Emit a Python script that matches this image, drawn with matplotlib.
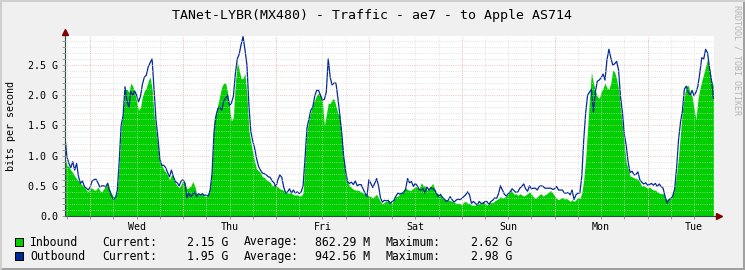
import matplotlib.pyplot as plt
import numpy as np
from matplotlib.patches import Rectangle
from matplotlib.lines import Line2D

# 30 minute samples in Gbit/s, hours counted from Wed 00:00
first_hour = -6.5
step_hour = 0.5
span_hours = 167.66

inbound = [
    0.98, 0.84, 0.82, 0.76, 0.72, 0.66, 0.62, 0.58, 0.54, 0.51,
    0.48, 0.43, 0.40, 0.47, 0.46, 0.43, 0.43, 0.48, 0.42, 0.40,
    0.45, 0.49, 0.57, 0.45, 0.38, 0.32, 0.33, 0.42, 0.85, 1.45,
    1.72, 2.09, 2.10, 2.05, 2.20, 2.15, 2.05, 1.90, 1.75, 1.80,
    1.98, 2.07, 2.12, 2.24, 2.30, 2.10, 1.68, 1.42, 1.15, 0.92,
    0.84, 0.77, 0.73, 0.68, 0.60,
    0.68, 0.66, 0.55, 0.50, 0.47, 0.52, 0.60, 0.55, 0.45, 0.47,
    0.50, 0.57, 0.50, 0.38, 0.35, 0.37, 0.37, 0.33, 0.32, 0.37,
    0.48, 0.80, 1.60, 1.72, 1.85, 2.00, 2.14, 2.20, 2.20, 2.05,
    1.80, 1.57, 1.64, 2.20, 2.55, 2.42, 2.27, 2.28, 2.36, 2.00,
    1.42, 1.22, 1.05, 0.90, 0.78, 0.75, 0.72, 0.65, 0.64, 0.60,
    0.58, 0.56, 0.50, 0.52,
    0.50, 0.48, 0.45, 0.44, 0.42, 0.41, 0.38, 0.38, 0.38, 0.35,
    0.35, 0.35, 0.34, 0.33, 0.38, 0.95, 1.40, 1.60, 1.72, 1.85,
    1.92, 2.00, 2.03, 2.02, 1.90, 1.50, 1.68, 1.87, 1.86, 1.93,
    1.94, 1.82, 1.70, 1.65, 1.30, 0.95, 0.68, 0.57, 0.50, 0.47,
    0.44, 0.43, 0.43, 0.42, 0.40, 0.38, 0.36, 0.35, 0.34, 0.32,
    0.30, 0.33, 0.36, 0.30,
    0.24, 0.20, 0.23, 0.24, 0.26, 0.24, 0.21, 0.32, 0.32, 0.33,
    0.36, 0.40, 0.43, 0.46, 0.44, 0.42, 0.43, 0.46, 0.49, 0.47,
    0.45, 0.55, 0.51, 0.49, 0.43, 0.44, 0.50, 0.54, 0.45, 0.38,
    0.37, 0.34, 0.31, 0.28, 0.27, 0.26, 0.26, 0.24, 0.23, 0.21,
    0.21, 0.21, 0.18, 0.23, 0.24, 0.21, 0.21, 0.18, 0.18, 0.18,
    0.19, 0.21, 0.22, 0.24, 0.21,
    0.18, 0.21, 0.23, 0.22, 0.25, 0.27, 0.29, 0.32, 0.30, 0.31,
    0.33, 0.37, 0.43, 0.41, 0.36, 0.37, 0.34, 0.37, 0.35, 0.33,
    0.35, 0.37, 0.40, 0.36, 0.32, 0.29, 0.32, 0.35, 0.37, 0.33,
    0.35, 0.37, 0.40, 0.42, 0.38, 0.33, 0.29, 0.27, 0.29, 0.31,
    0.28, 0.29, 0.27, 0.24, 0.27, 0.24, 0.27, 0.31, 0.29, 0.38,
    0.60, 0.95, 1.45, 1.95,
    2.38, 2.20, 2.08, 1.98, 1.95, 2.05, 2.12, 2.20, 2.12, 2.10,
    2.20, 2.42, 2.38, 2.27, 2.10, 1.80, 1.50, 1.18, 0.88, 0.78,
    0.66, 0.65, 0.63, 0.62, 0.61, 0.56, 0.49, 0.51, 0.48, 0.46,
    0.48, 0.45, 0.43, 0.43, 0.40, 0.38, 0.37, 0.37, 0.32, 0.27,
    0.29, 0.32, 0.37, 0.48, 0.70, 0.98, 1.38, 1.75, 2.00, 2.15,
    2.16, 2.05, 1.98, 1.78, 1.60, 1.93, 2.10, 2.24, 2.35, 2.48,
    2.60, 2.45, 2.25, 2.15,
]

outbound = [
    1.31, 0.98, 0.87, 0.80, 0.90, 0.76, 0.87, 0.65, 0.54, 0.58,
    0.49, 0.46, 0.43, 0.48, 0.58, 0.60, 0.61, 0.55, 0.48, 0.50,
    0.50, 0.48, 0.54, 0.42, 0.33, 0.28, 0.29, 0.42, 0.90, 1.50,
    1.66, 2.14, 1.90, 1.80, 2.06, 2.00, 2.07, 2.00, 1.89, 1.98,
    2.18, 2.30, 2.33, 2.47, 2.54, 2.60, 2.10, 1.60, 1.30, 0.95,
    0.84, 0.84, 0.80, 0.72, 0.65,
    0.76, 0.65, 0.57, 0.55, 0.50, 0.58, 0.60, 0.54, 0.30, 0.38,
    0.32, 0.36, 0.40, 0.32, 0.37, 0.35, 0.37, 0.34, 0.35, 0.33,
    0.43, 0.72, 1.40, 1.65, 1.78, 1.80, 1.75, 1.90, 1.95, 2.00,
    1.83, 1.87, 1.98, 2.35, 2.60, 2.68, 2.84, 2.97, 2.75, 2.50,
    1.85, 1.40, 1.24, 1.12, 0.95, 0.82, 0.76, 0.71, 0.70, 0.68,
    0.65, 0.64, 0.58, 0.55,
    0.48, 0.60, 0.68, 0.64, 0.48, 0.38, 0.40, 0.45, 0.38, 0.43,
    0.38, 0.40, 0.37, 0.40, 0.50, 0.95, 1.45, 1.60, 1.75, 1.80,
    1.98, 2.08, 2.08, 2.00, 1.92, 1.93, 2.05, 2.60, 2.30, 2.17,
    2.20, 2.20, 1.95, 1.67, 1.37, 0.98, 0.75, 0.57, 0.54, 0.56,
    0.52, 0.58, 0.50, 0.52, 0.52, 0.45, 0.38, 0.32, 0.60, 0.54,
    0.47, 0.54, 0.62, 0.50,
    0.30, 0.23, 0.26, 0.25, 0.26, 0.21, 0.24, 0.26, 0.33, 0.38,
    0.36, 0.38, 0.38, 0.45, 0.62, 0.55, 0.57, 0.49, 0.54, 0.50,
    0.44, 0.43, 0.45, 0.38, 0.48, 0.43, 0.47, 0.45, 0.43, 0.37,
    0.32, 0.36, 0.31, 0.28, 0.24, 0.26, 0.32, 0.27, 0.23, 0.26,
    0.28, 0.27, 0.29, 0.32, 0.35, 0.40, 0.35, 0.21, 0.24, 0.21,
    0.18, 0.24, 0.21, 0.21, 0.24,
    0.24, 0.19, 0.24, 0.26, 0.30, 0.29, 0.37, 0.50, 0.43, 0.36,
    0.33, 0.37, 0.40, 0.45, 0.42, 0.39, 0.40, 0.46, 0.49, 0.53,
    0.45, 0.41, 0.50, 0.45, 0.46, 0.46, 0.43, 0.49, 0.50, 0.49,
    0.46, 0.46, 0.46, 0.46, 0.44, 0.45, 0.49, 0.43, 0.43, 0.43,
    0.38, 0.38, 0.39, 0.35, 0.43, 0.27, 0.35, 0.38, 0.38, 0.65,
    1.25, 1.70, 2.00, 2.05,
    2.10, 1.72, 2.05, 2.23, 2.25, 2.29, 2.35, 2.25, 2.58, 2.76,
    2.62, 2.50, 2.52, 2.56, 2.42, 1.98, 1.72, 1.35, 1.16, 0.88,
    0.72, 0.74, 0.68, 0.69, 0.73, 0.60, 0.56, 0.53, 0.55, 0.51,
    0.52, 0.54, 0.51, 0.54, 0.49, 0.53, 0.49, 0.46, 0.33, 0.21,
    0.27, 0.29, 0.33, 0.45, 0.80, 1.26, 1.55, 1.74, 2.10, 2.15,
    2.05, 2.00, 2.08, 1.99, 2.05, 2.15, 2.37, 2.62, 2.60, 2.76,
    2.70, 2.45, 2.25, 1.95,
]

day_names = ['Wed', 'Thu', 'Fri', 'Sat', 'Sun', 'Mon', 'Tue']
y_ticks = [0.0, 0.5, 1.0, 1.5, 2.0, 2.5]
y_tick_labels = ['0.0', '0.5 G', '1.0 G', '1.5 G', '2.0 G', '2.5 G']

legend_names = ['Inbound', 'Outbound']
current_vals = ['2.15 G', '1.95 G']
average_vals = ['862.29 M', '942.56 M']
maximum_vals = ['2.62 G', '2.98 G']

title = 'TANet-LYBR(MX480) - Traffic - ae7 - to Apple AS714'

c_in = '#00CF00'
c_out = '#002A97'
mono = 'DejaVu Sans Mono'
W, H = 745, 270

hours = first_hour + step_hour * np.arange(len(inbound))

fig = plt.figure(figsize=(W / 100, H / 100), dpi=100, facecolor='#F0F0F0')
ax = fig.add_axes([65 / W, 54 / H, 649 / W, 180 / H], facecolor='white')

ax.fill_between(hours, 0, inbound, color=c_in, lw=0, zorder=1)
ax.plot(hours, outbound, color=c_out, lw=0.9, zorder=2)

ax.set_xlim(first_hour, first_hour + span_hours)
ax.set_ylim(0, 2.98)

# grid: gray every 6h / 0.1G, red every day / 0.5G, drawn over the data like rrdtool
noons = 12 + 24 * np.arange(len(day_names))
ax.set_xticks(noons, day_names)
ax.set_xticks(np.arange(-6, 162, 6), minor=True)
ax.set_yticks(y_ticks, y_tick_labels)
ax.set_yticks(np.arange(0, 2.95, 0.1), minor=True)

dots = (0, (1, 1.6))
gray = '#D4D4D4'
pink = '#F2B0B0'
ax.grid(which='both', axis='x', color=gray, ls=dots, lw=0.6, alpha=0.9)
ax.grid(which='minor', axis='y', color=gray, ls=dots, lw=0.6, alpha=0.9)
ax.grid(which='major', axis='y', color=pink, ls=dots, lw=0.6)
for d in range(0, 168, 24):
    ax.axvline(d, color=pink, ls=dots, lw=0.6, zorder=2.6)
ax.set_axisbelow(False)

ax.tick_params(which='both', length=2, width=0.72, color='#999999',
               labelsize=7.2, pad=2)
ax.tick_params(axis='y', pad=3)
for lab in ax.get_xticklabels() + ax.get_yticklabels():
    lab.set_family(mono)

for s in ['top', 'right']:
    ax.spines[s].set_visible(False)
for s in ['left', 'bottom']:
    ax.spines[s].set_color('#2C4D43')
    ax.spines[s].set_linewidth(0.8)

# axis arrows
ax.plot([0, 0], [1, 1.02], transform=ax.transAxes, clip_on=False,
        color='#2C4D43', lw=0.8)
ax.plot([1, 1.006], [0, 0], transform=ax.transAxes, clip_on=False,
        color='#2C4D43', lw=0.8)
ax.plot([0], [1.022], marker='^', ms=4.5, color='#7F0000',
        transform=ax.transAxes, clip_on=False)
ax.plot([1.008], [0], marker='>', ms=4.5, color='#7F0000',
        transform=ax.transAxes, clip_on=False)

fig.text(0.5, 1 - 15 / H, title, ha='center', va='center',
         fontsize=9.5, family=mono)
fig.text(11 / W, 1 - 126 / H, 'bits per second', rotation=90,
         ha='center', va='center', fontsize=7.2, family=mono)
fig.text(737 / W, 1 - 60 / H, 'RRDTOOL / TOBI OETIKER', rotation=270,
         ha='center', va='center', fontsize=6, family=mono, color='#B4B4B4')

# legend rows
for i, (name, col) in enumerate(zip(legend_names, [c_in, c_out])):
    yc = 1 - (242 + 14.3 * i) / H
    fig.add_artist(Rectangle((15 / W, yc - 4 / H), 8 / W, 8 / H,
                             transform=fig.transFigure, facecolor=col,
                             edgecolor='black', lw=0.72))
    kw = dict(va='center', fontsize=8.3, family=mono)
    fig.text(30 / W, yc, name, ha='left', **kw)
    fig.text(102 / W, yc, 'Current:', ha='left', **kw)
    fig.text(228 / W, yc, current_vals[i], ha='right', **kw)
    fig.text(244 / W, yc, 'Average:', ha='left', **kw)
    fig.text(370 / W, yc, average_vals[i], ha='right', **kw)
    fig.text(386 / W, yc, 'Maximum:', ha='left', **kw)
    fig.text(512 / W, yc, maximum_vals[i], ha='right', **kw)

# 3d frame round the image
fig.add_artist(Line2D([0, 1], [1 / H, 1 / H], color='#9E9E9E', lw=1.4))
fig.add_artist(Line2D([1 - 1 / W, 1 - 1 / W], [0, 1], color='#9E9E9E', lw=1.4))
fig.add_artist(Line2D([0, 1], [1 - 1 / H, 1 - 1 / H], color='#CFCFCF', lw=1.4))
fig.add_artist(Line2D([1 / W, 1 / W], [0, 1], color='#CFCFCF', lw=1.4))

fig.savefig('out.png', dpi=100, facecolor=fig.get_facecolor())
